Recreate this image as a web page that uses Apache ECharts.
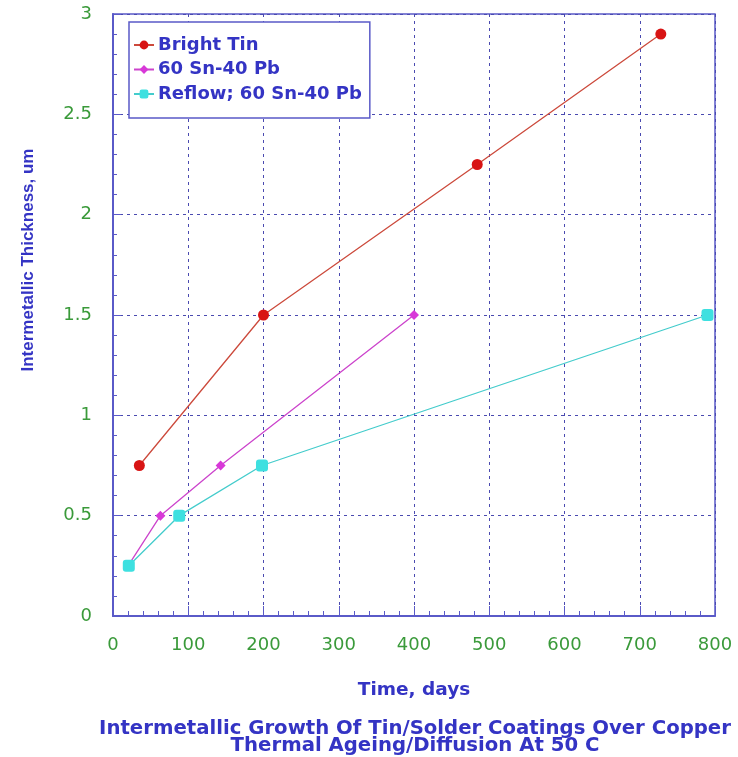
<!DOCTYPE html>
<html><head><meta charset="utf-8">
<script src="https://cdn.jsdelivr.net/npm/echarts@6/dist/echarts.min.js"></script>
<style>html,body{margin:0;padding:0;background:#fff}#c{width:738px;height:757px}</style>
</head><body><div id="c"></div>
<script>
const seriesNames = ['Bright Tin', '60 Sn-40 Pb', 'Reflow; 60 Sn-40 Pb'];
const brightTinDays = [35, 200, 484, 728];
const brightTinThick = [0.75, 1.5, 2.25, 2.9];
const snPbDays = [20, 63, 143, 400];
const snPbThick = [0.25, 0.5, 0.75, 1.5];
const reflowDays = [21, 88, 198, 790];
const reflowThick = [0.25, 0.5, 0.75, 1.5];
const xTicks = [0, 100, 200, 300, 400, 500, 600, 700, 800];
const yTicks = [0, 0.5, 1, 1.5, 2, 2.5, 3];
const titleLines = ['Intermetallic Growth Of Tin/Solder Coatings Over Copper', 'Thermal Ageing/Diffusion At 50 C'];
const xName = 'Time, days';
const yName = 'Intermetallic Thickness, um';

const pair = (xs, ys) => xs.map((x, i) => [x, ys[i]]);
const WIDE = 'DejaVu Sans, Verdana, sans-serif';
const NARROW = 'Liberation Sans, Arial, sans-serif';
const BLUE = '#3434c4';
const GREEN = '#3a9a3a';
const gridLine = { show: true, lineStyle: { color: '#4a4ab0', width: 1, type: [3, 4] } };

const chart = echarts.init(document.getElementById('c'), null, { renderer: 'canvas' });
chart.setOption({
  backgroundColor: '#fff',
  animation: false,
  title: {
    text: titleLines.join('\n'),
    left: 410, top: 715, textAlign: 'center',
    textStyle: { color: BLUE, fontFamily: WIDE, fontSize: 19.7, fontWeight: 'bold', lineHeight: 17 }
  },
  legend: {
    orient: 'vertical', left: 129, top: 22,
    backgroundColor: '#fff', borderColor: '#5a5ac8', borderWidth: 1.5,
    padding: [14, 8, 15, 4], itemGap: 6.5, itemWidth: 20, itemHeight: 11,
    textStyle: { color: BLUE, fontFamily: WIDE, fontSize: 18, fontWeight: 'bold', padding: [0, 0, 0, -1] },
    data: seriesNames
  },
  grid: { left: 113, right: 23, top: 14, bottom: 141, show: true, borderColor: '#5a5ac8', borderWidth: 1.5, backgroundColor: 'transparent' },
  xAxis: {
    type: 'value', min: xTicks[0], max: xTicks[xTicks.length - 1], interval: 100,
    name: xName, nameLocation: 'middle', nameGap: 65,
    nameTextStyle: { color: BLUE, fontFamily: WIDE, fontSize: 18.5, fontWeight: 'bold' },
    axisLine: { show: true, lineStyle: { color: '#5a5ac8', width: 2 } },
    axisTick: { show: true, inside: true, length: 10, lineStyle: { color: '#5a5ac8' } },
    minorTick: { show: true, splitNumber: 5, length: 5, lineStyle: { color: '#5a5ac8' } },
    axisLabel: { color: GREEN, fontFamily: WIDE, fontSize: 18, margin: 20 },
    splitLine: gridLine
  },
  yAxis: {
    type: 'value', min: yTicks[0], max: yTicks[yTicks.length - 1], interval: 0.5,
    name: yName, nameLocation: 'middle', nameGap: 76, nameRotate: 90,
    nameTextStyle: { color: BLUE, fontFamily: NARROW, fontSize: 17, fontWeight: 'bold', padding: [0, 0, 0, 110] },
    axisLine: { show: true, lineStyle: { color: '#5a5ac8', width: 2 } },
    axisTick: { show: true, inside: true, length: 8, lineStyle: { color: '#5a5ac8' } },
    minorTick: { show: true, splitNumber: 5, length: 4, lineStyle: { color: '#5a5ac8' } },
    axisLabel: { color: GREEN, fontFamily: WIDE, fontSize: 18, margin: 21 },
    splitLine: gridLine
  },
  series: [
    { name: seriesNames[0], type: 'line', data: pair(brightTinDays, brightTinThick),
      symbol: 'circle', symbolSize: 11, itemStyle: { color: '#d81414' },
      lineStyle: { color: '#cc4a3c', width: 1.3 } },
    { name: seriesNames[1], type: 'line', data: pair(snPbDays, snPbThick),
      symbol: 'diamond', symbolSize: 10, itemStyle: { color: '#d838d8' },
      lineStyle: { color: '#cc44cc', width: 1.3 } },
    { name: seriesNames[2], type: 'line', data: pair(reflowDays, reflowThick),
      symbol: 'roundRect', symbolSize: 12, itemStyle: { color: '#3ee0e0' },
      lineStyle: { color: '#44cccc', width: 1.3 } }
  ]
});
</script></body></html>
